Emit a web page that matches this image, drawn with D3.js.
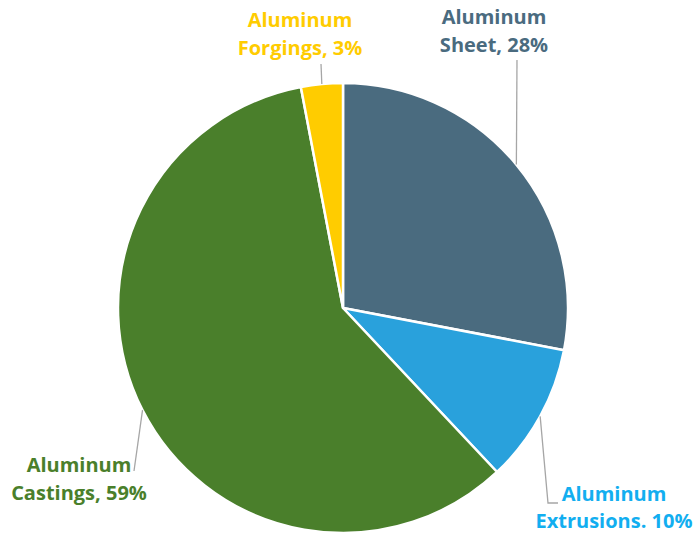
<!DOCTYPE html>
<html>
<head>
<meta charset="utf-8">
<title>Aluminum pie</title>
<script src="https://cdn.jsdelivr.net/npm/d3@7"></script>
<style>
  body { margin: 0; background: white; }
  text { font-family: "Open Sans", sans-serif; font-weight: bold; font-size: 20px; }
</style>
</head>
<body>
<div id="chart"></div>
<script>
// data
var categories = ["Aluminum Sheet", "Aluminum Extrusions", "Aluminum Castings", "Aluminum Forgings"];
var shares = [28, 10, 59, 3];
var labelLines = [
  ["Aluminum", "Sheet, 28%"],
  ["Aluminum", "Extrusions. 10%"],
  ["Aluminum", "Castings, 59%"],
  ["Aluminum", "Forgings, 3%"]
];
var sliceColors = ["#4a6b7f", "#29a1dc", "#4a7f2b", "#ffcc00"];
var labelColors = ["#4a6b7f", "#12aef0", "#4a7f2b", "#ffcc00"];

var width = 693, height = 534;
var cx = 343, cy = 308, radius = 225;

// label layout: text center x, first baseline y, line gap, leader end points
var labelLayout = [
  { x: 494, y: 24, gap: 28, leader: [[517, 60]] },
  { x: 614, y: 501, gap: 27, leader: [[548, 503], [558, 503]] },
  { x: 79, y: 472, gap: 28, leader: [[134, 471]] },
  { x: 300, y: 27, gap: 28, leader: [[321, 64]] }
];

var svg = d3.select("#chart").append("svg")
  .attr("width", width)
  .attr("height", height);

var pie = d3.pie().sort(null).value(function(d) { return d; });
var arcs = pie(shares);
var arc = d3.arc().innerRadius(0).outerRadius(radius);

var g = svg.append("g").attr("transform", "translate(" + cx + "," + cy + ")");

g.selectAll("path.slice")
  .data(arcs)
  .enter().append("path")
  .attr("class", "slice")
  .attr("d", arc)
  .attr("fill", function(d, i) { return sliceColors[i]; })
  .attr("stroke", "white")
  .attr("stroke-width", 2.5)
  .attr("stroke-linejoin", "round");

// leader lines from the outer edge at mid-angle
var line = d3.line();
g.selectAll("path.leader")
  .data(arcs)
  .enter().append("path")
  .attr("class", "leader")
  .attr("fill", "none")
  .attr("stroke", "#a6a6a6")
  .attr("stroke-width", 1.3)
  .attr("d", function(d, i) {
    var a = (d.startAngle + d.endAngle) / 2;
    var pts = [[radius * Math.sin(a), -radius * Math.cos(a)]];
    labelLayout[i].leader.forEach(function(p) { pts.push([p[0] - cx, p[1] - cy]); });
    return line(pts);
  });

// labels
labelLines.forEach(function(lines, i) {
  var L = labelLayout[i];
  var t = svg.append("text")
    .attr("fill", labelColors[i])
    .attr("text-anchor", "middle");
  lines.forEach(function(s, j) {
    t.append("tspan")
      .attr("x", L.x)
      .attr("y", L.y + j * L.gap)
      .text(s);
  });
});
</script>
</body>
</html>
